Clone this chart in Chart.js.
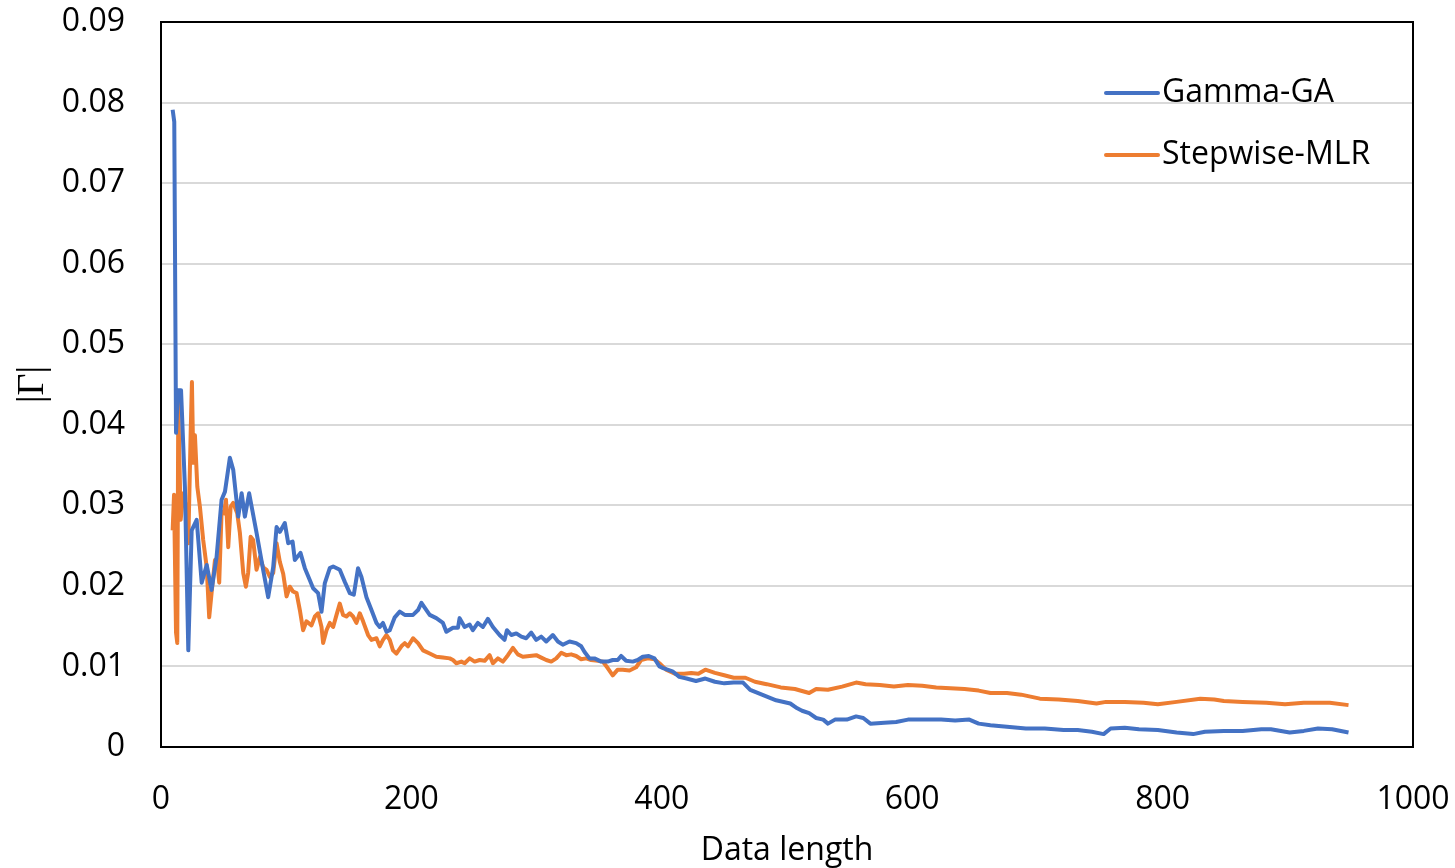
<!DOCTYPE html>
<html>
<head>
<meta charset="utf-8">
<title>Gamma-GA vs Stepwise-MLR</title>
<script src="https://cdn.jsdelivr.net/npm/chart.js@4.4.1/dist/chart.umd.min.js"></script>
<style>
  html, body { margin: 0; padding: 0; background: #fff; }
  canvas { display: block; }
</style>
</head>
<body>
<canvas id="chart" width="1455" height="868"></canvas>
<script>
const seriesNames = ["Gamma-GA", "Stepwise-MLR"];
const seriesColors = ["#4472C4", "#ED7D31"];

const xTickValues = [0, 200, 400, 600, 800, 1000];
const xTickLabels = ["0", "200", "400", "600", "800", "1000"];
const yTickValues = [0, 0.01, 0.02, 0.03, 0.04, 0.05, 0.06, 0.07, 0.08, 0.09];
const yTickLabels = ["0", "0.01", "0.02", "0.03", "0.04", "0.05", "0.06", "0.07", "0.08", "0.09"];

// Gamma-GA
const gammaX = [9.3, 10.6, 12.0, 13.6, 16.0, 19.1, 21.8, 24.5, 28.5, 32.5,
  36.5, 40.4, 44.4, 48.4, 51.1, 55.0, 57.7, 61.7, 64.4, 67.0,
  70.4, 76.3, 81.6, 85.6, 89.6, 92.3, 94.9, 98.9, 101.6, 105.1,
  106.9, 111.4, 114.9, 118.9, 121.5, 125.5, 128.2, 130.8, 134.8, 137.5,
  142.8, 146.8, 150.8, 154.0, 157.4, 160.1, 164.1, 168.1, 172.1, 174.7,
  177.3, 180.1, 182.7, 186.7, 190.7, 194.7, 201.3, 205.3, 208.0, 210.6,
  214.6, 219.9, 225.2, 227.9, 233.2, 237.2, 238.5, 242.5, 246.5, 249.1,
  253.1, 257.1, 261.1, 265.1, 270.4, 274.4, 276.3, 279.8, 283.8, 287.8,
  291.7, 295.7, 299.7, 303.7, 307.7, 313.0, 317.0, 320.9, 326.3, 331.6,
  335.6, 338.3, 342.2, 346.2, 351.6, 356.8, 360.8, 364.8, 367.5, 371.5,
  376.8, 380.8, 384.8, 389.6, 394.1, 398.1, 401.0, 408.5, 414.0, 419.8,
  427.3, 434.8, 442.4, 449.9, 457.4, 464.9, 470.6, 480.0, 491.3, 502.6,
  508.2, 512.0, 517.7, 523.3, 528.9, 532.7, 538.3, 547.8, 555.2, 560.9,
  566.6, 577.8, 587.2, 596.6, 608.0, 623.1, 634.3, 645.6, 653.1, 662.5,
  675.7, 690.8, 705.9, 720.9, 732.2, 743.5, 752.9, 758.5, 769.8, 781.1,
  796.2, 811.2, 824.4, 833.8, 848.9, 863.9, 878.9, 886.5, 901.5, 912.8,
  924.1, 935.4, 948.5];
const gammaY = [0.0791, 0.0776, 0.039, 0.0443, 0.0443, 0.0323, 0.012, 0.0269, 0.0282, 0.0204,
  0.0226, 0.0195, 0.0236, 0.0307, 0.0317, 0.0359, 0.0344, 0.0286, 0.0315, 0.0286,
  0.0315, 0.0266, 0.022, 0.0186, 0.0223, 0.0273, 0.0267, 0.0278, 0.0253, 0.0255,
  0.0232, 0.0241, 0.0222, 0.0207, 0.0197, 0.0191, 0.0168, 0.0203, 0.0222, 0.0224,
  0.022, 0.0205, 0.0191, 0.0189, 0.0222, 0.0211, 0.0186, 0.017, 0.0154, 0.0149,
  0.0154, 0.0143, 0.0145, 0.0161, 0.0168, 0.0164, 0.0164, 0.017, 0.0179, 0.0173,
  0.0164, 0.016, 0.0154, 0.0143, 0.0148, 0.0148, 0.016, 0.0149, 0.0152, 0.0145,
  0.0154, 0.0149, 0.0159, 0.0149, 0.0139, 0.0133, 0.0145, 0.0139, 0.0141, 0.0137,
  0.0135, 0.0142, 0.0133, 0.0137, 0.0131, 0.0139, 0.0131, 0.0127, 0.0131, 0.0129,
  0.0125, 0.0118, 0.011, 0.011, 0.0106, 0.0106, 0.0108, 0.0108, 0.0113, 0.0107,
  0.0106, 0.0108, 0.0112, 0.0113, 0.011, 0.01, 0.0098, 0.0094, 0.0087, 0.0085,
  0.0082, 0.0085, 0.0081, 0.0079, 0.008, 0.008, 0.0071, 0.0065, 0.0058, 0.0054,
  0.0048, 0.0045, 0.0042, 0.0036, 0.0034, 0.0029, 0.0034, 0.0034, 0.0038, 0.0036,
  0.0029, 0.003, 0.0031, 0.0034, 0.0034, 0.0034, 0.0033, 0.0034, 0.0029, 0.0027,
  0.0025, 0.0023, 0.0023, 0.0021, 0.0021, 0.0019, 0.0016, 0.0023, 0.0024, 0.0022,
  0.0021, 0.0018, 0.0016, 0.0019, 0.002, 0.002, 0.0022, 0.0022, 0.0018, 0.002,
  0.0023, 0.0022, 0.0018];

// Stepwise-MLR
const stepX = [9.3, 10.4, 12.0, 13.0, 13.8, 15.7, 17.8, 19.9, 21.8, 23.7,
  24.7, 25.8, 27.1, 29.0, 31.1, 33.7, 36.5, 38.5, 40.4, 43.1,
  44.9, 46.5, 48.4, 50.3, 51.9, 53.7, 55.6, 57.7, 60.9, 63.0,
  65.7, 67.8, 69.6, 71.6, 73.6, 76.3, 79.0, 81.6, 84.3, 87.0,
  89.6, 92.3, 94.9, 97.6, 100.3, 102.9, 105.5, 108.3, 110.9, 113.5,
  116.2, 120.2, 122.9, 125.5, 128.2, 129.5, 132.2, 134.8, 137.5, 140.2,
  142.8, 145.4, 148.1, 150.8, 153.4, 156.1, 158.8, 161.4, 165.4, 168.1,
  172.1, 174.7, 177.3, 180.1, 182.7, 185.3, 188.0, 192.0, 194.7, 197.3,
  201.3, 205.3, 209.3, 214.6, 219.9, 225.2, 230.6, 233.2, 235.9, 239.9,
  242.5, 246.5, 250.5, 254.5, 258.5, 262.5, 265.1, 269.1, 273.1, 277.1,
  281.1, 285.0, 289.0, 294.4, 299.7, 303.7, 307.7, 311.7, 315.7, 319.7,
  323.7, 327.6, 331.6, 335.6, 339.6, 343.6, 348.9, 352.9, 356.8, 360.8,
  364.8, 368.8, 374.2, 379.5, 383.5, 388.8, 394.1, 398.1, 403.4, 410.4,
  417.9, 423.5, 429.2, 434.8, 442.4, 449.9, 457.4, 466.8, 474.4, 483.8,
  495.0, 506.3, 517.7, 523.3, 532.7, 544.0, 555.2, 562.8, 574.1, 585.4,
  596.6, 608.0, 619.2, 630.5, 641.8, 653.1, 662.5, 675.7, 687.0, 702.0,
  717.1, 732.2, 747.2, 754.8, 769.8, 784.8, 796.2, 811.2, 830.1, 841.3,
  848.9, 863.9, 882.8, 897.8, 912.8, 933.5, 948.5];
const stepY = [0.0269, 0.0313, 0.0142, 0.0129, 0.0427, 0.0282, 0.0315, 0.0298, 0.0253, 0.039,
  0.0453, 0.0353, 0.0387, 0.0323, 0.0298, 0.0257, 0.0223, 0.0161, 0.0191, 0.0232,
  0.0232, 0.0204, 0.0292, 0.029, 0.0307, 0.0248, 0.0298, 0.0303, 0.029, 0.0266,
  0.0216, 0.0199, 0.0216, 0.0261, 0.0257, 0.022, 0.0236, 0.0223, 0.022, 0.0211,
  0.0216, 0.0253, 0.023, 0.0215, 0.0187, 0.0199, 0.0193, 0.0191, 0.017, 0.0145,
  0.0156, 0.0151, 0.0162, 0.0166, 0.0149, 0.0129, 0.0145, 0.0154, 0.0149, 0.0164,
  0.0178, 0.0164, 0.0162, 0.0166, 0.0162, 0.0154, 0.0166, 0.0156, 0.0139, 0.0133,
  0.0135, 0.0125, 0.0133, 0.0139, 0.0133, 0.012, 0.0116, 0.0125, 0.0129, 0.0125,
  0.0135, 0.0129, 0.012, 0.0116, 0.0112, 0.0111, 0.011, 0.0108, 0.0104, 0.0106,
  0.0104, 0.011, 0.0106, 0.0108, 0.0107, 0.0114, 0.0104, 0.011, 0.0106, 0.0114,
  0.0123, 0.0115, 0.0112, 0.0113, 0.0114, 0.0111, 0.0108, 0.0106, 0.011, 0.0117,
  0.0114, 0.0115, 0.0113, 0.0109, 0.011, 0.0108, 0.0107, 0.0106, 0.0098, 0.0089,
  0.0096, 0.0096, 0.0095, 0.0099, 0.0108, 0.011, 0.0109, 0.0104, 0.0096, 0.0091,
  0.0091, 0.0092, 0.0091, 0.0096, 0.0092, 0.0089, 0.0086, 0.0086, 0.0081, 0.0078,
  0.0074, 0.0072, 0.0067, 0.0072, 0.0071, 0.0075, 0.008, 0.0078, 0.0077, 0.0075,
  0.0077, 0.0076, 0.0074, 0.0073, 0.0072, 0.007, 0.0067, 0.0067, 0.0065, 0.006,
  0.0059, 0.0057, 0.0054, 0.0056, 0.0056, 0.0055, 0.0053, 0.0056, 0.006, 0.0059,
  0.0057, 0.0056, 0.0055, 0.0053, 0.0055, 0.0055, 0.0052];

const toPoints = (xs, ys) => xs.map((x, i) => ({ x: x, y: ys[i] }));

const FONT = "'Open Sans', sans-serif";

// plot frame + legend drawn inside the plot area
const frameAndLegend = {
  id: "frameAndLegend",
  beforeDatasetsDraw(chart) {
    const { ctx, chartArea: a } = chart;
    ctx.save();
    ctx.strokeStyle = "#000";
    ctx.lineWidth = 2;
    ctx.strokeRect(a.left, a.top, a.right - a.left, a.bottom - a.top);
    ctx.restore();
  },
  afterDatasetsDraw(chart) {
    const { ctx, chartArea: a } = chart;
    ctx.save();
    chart.data.datasets.forEach((ds, i) => {
      const y = a.top + 71 + i * 62;
      ctx.strokeStyle = ds.borderColor;
      ctx.lineWidth = 4;
      ctx.lineCap = "round";
      ctx.beginPath();
      ctx.moveTo(a.right - 307, y);
      ctx.lineTo(a.right - 255, y);
      ctx.stroke();
      ctx.fillStyle = "#000";
      ctx.font = "32px " + FONT;
      ctx.textBaseline = "middle";
      ctx.textAlign = "left";
      ctx.fillText(ds.label, a.right - 251, y);
    });
    ctx.restore();
  }
};

new Chart(document.getElementById("chart"), {
  type: "line",
  data: {
    datasets: [
      {
        label: seriesNames[0],
        data: toPoints(gammaX, gammaY),
        borderColor: seriesColors[0],
        borderWidth: 4,
        borderJoinStyle: "round",
        pointRadius: 0,
        tension: 0,
        fill: false
      },
      {
        label: seriesNames[1],
        data: toPoints(stepX, stepY),
        borderColor: seriesColors[1],
        borderWidth: 4,
        borderJoinStyle: "round",
        pointRadius: 0,
        tension: 0,
        fill: false
      }
    ]
  },
  options: {
    responsive: false,
    devicePixelRatio: 1,
    animation: false,
    layout: { padding: { top: 22, right: 42, bottom: 0, left: 0 } },
    plugins: {
      legend: { display: false },
      tooltip: { enabled: false }
    },
    scales: {
      x: {
        type: "linear",
        min: 0,
        max: 1000,
        afterBuildTicks: axis => { axis.ticks = xTickValues.map(v => ({ value: v })); },
        afterFit: scale => {
          scale.height = 121;
          scale.paddingLeft = 0;
          scale.paddingRight = 0;
        },
        grid: { display: false },
        border: { display: false },
        ticks: {
          callback: (value, index) => xTickLabels[index],
          color: "#000",
          padding: 26,
          maxRotation: 0,
          font: { family: FONT, size: 32 }
        },
        title: {
          display: true,
          text: "Data length",
          color: "#000",
          font: { family: FONT, size: 32, lineHeight: 1 },
          padding: { top: 0, bottom: 1 }
        }
      },
      y: {
        min: 0,
        max: 0.09,
        afterBuildTicks: axis => { axis.ticks = yTickValues.map(v => ({ value: v })); },
        afterFit: scale => {
          scale.width = 161;
          scale.paddingTop = 0;
          scale.paddingBottom = 0;
        },
        grid: { color: "#d9d9d9", lineWidth: 2, drawTicks: false },
        border: { display: false },
        ticks: {
          callback: (value, index) => yTickLabels[index],
          color: "#000",
          padding: 36,
          font: { family: FONT, size: 32 }
        },
        title: {
          display: true,
          text: "|Γ|",
          color: "#000",
          font: { family: "'Liberation Serif', serif", size: 38, lineHeight: 1 },
          padding: { top: 14, bottom: 0 }
        }
      }
    }
  },
  plugins: [frameAndLegend]
});
</script>
</body>
</html>
